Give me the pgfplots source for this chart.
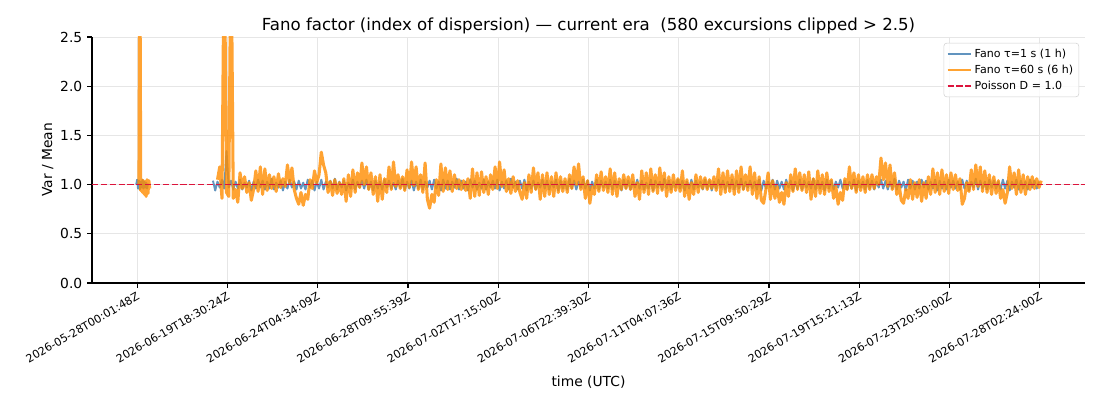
\documentclass[border=0pt]{standalone}
\usepackage{fontspec}
\setmainfont{DejaVu Sans}
\usepackage{pgfplots}
\pgfplotsset{compat=1.18}
\definecolor{mblue}{RGB}{70,130,180}
\definecolor{morange}{RGB}{255,140,0}
\definecolor{mred}{RGB}{220,20,60}
\definecolor{gridgray}{RGB}{230,230,230}
\begin{document}
\begin{tikzpicture}
\begin{axis}[
  at={(0,0)}, anchor=south west,
  scale only axis, width=714.96bp, height=177.12bp,
  xmin=-0.5, xmax=10.5, ymin=0, ymax=2.5,
  axis x line*=bottom, axis y line*=left,
  x axis line style={-}, y axis line style={-},
  axis line style={line width=0.8bp},
  xtick={0,...,10},
  xticklabels={2026-05-28T00:01:48Z,2026-06-19T18:30:24Z,2026-06-24T04:34:09Z,2026-06-28T09:55:39Z,2026-07-02T17:15:00Z,2026-07-06T22:39:30Z,2026-07-11T04:07:36Z,2026-07-15T09:50:29Z,2026-07-19T15:21:13Z,2026-07-23T20:50:00Z,2026-07-28T02:24:00Z},
  ytick={0,0.5,1,1.5,2,2.5},
  yticklabels={0.0,0.5,1.0,1.5,2.0,2.5},
  tick align=outside, major tick length=3.5bp,
  tick style={line width=0.8bp, black},
  grid=major, grid style={line width=0.7bp, gridgray},
  xticklabel style={rotate=30, anchor=north east, font=\fontsize{8}{9.6}\selectfont, inner sep=1bp, xshift=-1bp, yshift=-1bp},
  yticklabel style={font=\fontsize{10}{12}\selectfont},
  xlabel={time (UTC)}, ylabel={Var / Mean},
  label style={font=\fontsize{10}{12}\selectfont},
  xlabel style={yshift=-4bp},
  ylabel style={yshift=-2bp},
  title={Fano factor (index of dispersion) — current era\ \ (580 excursions clipped > 2.5)},
  title style={font=\fontsize{12}{14.4}\selectfont, yshift=-7bp},
  legend style={at={(0.994,0.976)}, anchor=north east, font=\fontsize{8}{9.6}\selectfont, draw=gray!35, rounded corners=2bp, fill=white, fill opacity=0.8, text opacity=1, inner sep=2bp},
  legend cell align=left,
]
\addplot[mblue, opacity=0.85, line width=1.4bp, line join=round, legend image code/.code={\draw[mblue, opacity=0.85, line width=1bp] (0cm,0cm) -- (0.6cm,0cm);}] table[row sep=\\, x expr=0.84+0.025*\coordindex, y index=0] {y\\
1.04\\ 0.94\\ 1.03\\ 0.97\\ 1.05\\ 0.96\\ 1.34\\ 0.97\\ 1.04\\ 0.95\\
1.03\\ 0.96\\ 1.05\\ 0.95\\ 1.02\\ 0.97\\ 1.04\\ 0.94\\ 1.03\\ 0.96\\
1.05\\ 0.97\\ 1.04\\ 0.95\\ 1.03\\ 0.96\\ 1.06\\ 0.95\\ 1.02\\ 0.97\\
1.04\\ 0.94\\ 1.03\\ 0.96\\ 1.05\\ 0.97\\ 1.03\\ 0.95\\ 1.04\\ 0.96\\
1.02\\ 0.95\\ 1.05\\ 0.97\\ 1.04\\ 0.94\\ 1.03\\ 0.96\\ 1.05\\ 0.95\\
1.03\\ 0.97\\ 1.04\\ 0.96\\ 1.06\\ 0.95\\ 1.03\\ 0.97\\ 1.04\\ 0.94\\
1.02\\ 0.96\\ 1.05\\ 0.95\\ 1.03\\ 0.97\\ 1.04\\ 0.96\\ 1.05\\ 0.95\\
1.03\\ 0.94\\ 1.04\\ 0.96\\ 1.03\\ 0.95\\ 1.05\\ 0.97\\ 1.04\\ 0.96\\
1.02\\ 0.95\\ 1.04\\ 0.97\\ 1.06\\ 0.95\\ 1.03\\ 0.96\\ 1.04\\ 0.94\\
1.03\\ 0.96\\ 1.05\\ 0.95\\ 1.03\\ 0.97\\ 1.04\\ 0.95\\ 1.05\\ 0.96\\
1.03\\ 0.94\\ 1.05\\ 0.96\\ 1.04\\ 0.95\\ 1.03\\ 0.97\\ 1.06\\ 0.95\\
1.04\\ 0.96\\ 1.03\\ 0.94\\ 1.05\\ 0.97\\ 1.04\\ 0.95\\ 1.02\\ 0.96\\
1.05\\ 0.95\\ 1.03\\ 0.97\\ 1.04\\ 0.96\\ 1.05\\ 0.94\\ 1.03\\ 0.96\\
1.04\\ 0.95\\ 1.06\\ 0.97\\ 1.03\\ 0.95\\ 1.04\\ 0.96\\ 1.05\\ 0.94\\
1.03\\ 0.96\\ 1.04\\ 0.95\\ 1.02\\ 0.97\\ 1.05\\ 0.96\\ 1.04\\ 0.95\\
1.03\\ 0.97\\ 1.05\\ 0.94\\ 1.04\\ 0.96\\ 1.03\\ 0.95\\ 1.06\\ 0.96\\
1.04\\ 0.95\\ 1.03\\ 0.97\\ 1.05\\ 0.96\\ 1.04\\ 0.94\\ 1.03\\ 0.96\\
1.05\\ 0.95\\ 1.04\\ 0.97\\ 1.03\\ 0.96\\ 1.05\\ 0.95\\ 1.04\\ 0.97\\
1.03\\ 0.94\\ 1.05\\ 0.96\\ 1.04\\ 0.95\\ 1.03\\ 0.97\\ 1.05\\ 0.96\\
1.04\\ 0.95\\ 1.02\\ 0.96\\ 1.05\\ 0.94\\ 1.04\\ 0.97\\ 1.03\\ 0.95\\
1.06\\ 0.96\\ 1.04\\ 0.95\\ 1.03\\ 0.97\\ 1.05\\ 0.96\\ 1.04\\ 0.94\\
1.03\\ 0.96\\ 1.05\\ 0.95\\ 1.04\\ 0.97\\ 1.03\\ 0.95\\ 1.05\\ 0.96\\
1.04\\ 0.94\\ 1.03\\ 0.96\\ 1.05\\ 0.97\\ 1.04\\ 0.95\\ 1.03\\ 0.96\\
1.05\\ 0.95\\ 1.04\\ 0.96\\ 1.06\\ 0.95\\ 1.03\\ 0.97\\ 1.04\\ 0.96\\
1.03\\ 0.95\\ 1.05\\ 0.94\\ 1.04\\ 0.96\\ 1.03\\ 0.97\\ 1.05\\ 0.95\\
1.04\\ 0.96\\ 1.03\\ 0.95\\ 1.05\\ 0.97\\ 1.04\\ 0.94\\ 1.03\\ 0.96\\
1.05\\ 0.95\\ 1.04\\ 0.97\\ 1.03\\ 0.96\\ 1.06\\ 0.95\\ 1.04\\ 0.96\\
1.03\\ 0.94\\ 1.05\\ 0.96\\ 1.04\\ 0.95\\ 1.03\\ 0.97\\ 1.05\\ 0.96\\
1.04\\ 0.95\\ 1.03\\ 0.96\\ 1.05\\ 0.94\\ 1.04\\ 0.97\\ 1.03\\ 0.95\\
1.05\\ 0.96\\ 1.04\\ 0.95\\ 1.03\\ 0.97\\ 1.05\\ 0.96\\ 1.04\\ 0.95\\
1.03\\ 0.96\\ 1.06\\ 0.95\\ 1.04\\ 0.97\\ 1.03\\ 0.94\\ 1.05\\ 0.96\\
1.04\\ 0.95\\ 1.03\\ 0.96\\ 1.05\\ 0.97\\ 1.04\\ 0.95\\ 1.03\\ 0.96\\
1.05\\ 0.94\\ 1.04\\ 0.96\\ 1.03\\ 0.95\\ 1.05\\ 0.97\\ 1.04\\ 0.96\\
1.03\\ 0.95\\ 1.05\\ 0.96\\ 1.04\\ 0.94\\ 1.03\\ 0.97\\ 1.06\\ 0.95\\
1.04\\ 0.96\\ 1.03\\ 0.95\\ 1.05\\ 0.97\\ 1.04\\ 0.96\\ 1.03\\ 0.95\\
1.05\\ 0.96\\ 1.04\\ 0.94\\ 1.03\\ 0.97\\ 1.05\\ 0.95\\ 1.04\\ 0.96\\
1.03\\ 0.95\\ 1.05\\ 0.97\\ 1.04\\ 0.96\\ 1.03\\
};
\addlegendentry{Fano τ=1 s (1 h)}
\addplot[mblue, opacity=0.85, line width=1.4bp, line join=round, forget plot] coordinates {
(-0.01,1.00) (0.00,1.05) (0.01,0.96) (0.02,1.04) (0.03,0.95) (0.04,1.03) (0.05,0.97) (0.06,1.05) (0.07,0.96) (0.08,1.03) (0.09,0.97) (0.10,1.02) (0.11,0.96) (0.12,1.01)
};
\addplot[morange, opacity=0.8, line width=2.2bp, line join=round, legend image code/.code={\draw[morange, opacity=0.8, line width=1bp] (0cm,0cm) -- (0.6cm,0cm);}] table[row sep=\\, x expr=0.89+0.025*\coordindex, y index=0] {y\\
1.05\\ 1.18\\ 0.86\\ 3.6\\ 0.92\\ 0.88\\ 3.6\\ 0.86\\ 0.95\\ 0.82\\
1.12\\ 0.96\\ 1.08\\ 0.92\\ 1.02\\ 0.84\\ 0.95\\ 1.14\\ 0.93\\ 1.18\\
0.90\\ 1.16\\ 0.94\\ 1.10\\ 0.96\\ 1.08\\ 0.93\\ 1.11\\ 0.97\\ 1.06\\
0.98\\ 1.20\\ 1.02\\ 1.17\\ 0.95\\ 0.86\\ 0.80\\ 0.92\\ 0.79\\ 0.90\\
0.85\\ 1.05\\ 0.96\\ 1.14\\ 1.02\\ 1.10\\ 1.33\\ 1.20\\ 1.12\\ 0.92\\
1.03\\ 0.89\\ 1.05\\ 0.91\\ 1.02\\ 0.90\\ 1.06\\ 0.83\\ 1.10\\ 0.88\\
1.15\\ 0.92\\ 1.12\\ 0.97\\ 1.22\\ 1.00\\ 1.18\\ 0.95\\ 1.12\\ 0.90\\
1.08\\ 0.83\\ 1.10\\ 0.85\\ 1.06\\ 0.92\\ 1.18\\ 0.95\\ 1.23\\ 0.98\\
1.10\\ 0.96\\ 1.08\\ 0.94\\ 1.15\\ 0.97\\ 1.23\\ 0.99\\ 1.18\\ 0.95\\
1.10\\ 0.92\\ 1.22\\ 0.85\\ 0.76\\ 0.90\\ 0.82\\ 1.05\\ 0.89\\ 1.21\\
0.93\\ 1.17\\ 0.95\\ 1.14\\ 0.93\\ 1.10\\ 0.96\\ 1.05\\ 0.95\\ 1.04\\
0.94\\ 1.06\\ 0.86\\ 1.16\\ 0.88\\ 1.12\\ 0.89\\ 1.13\\ 0.92\\ 1.08\\
0.90\\ 1.10\\ 0.95\\ 1.18\\ 0.96\\ 1.23\\ 0.98\\ 1.15\\ 0.93\\ 1.06\\
0.91\\ 1.08\\ 0.93\\ 1.04\\ 0.92\\ 0.85\\ 1.02\\ 0.86\\ 1.10\\ 0.92\\
1.17\\ 0.95\\ 1.12\\ 0.85\\ 1.10\\ 0.88\\ 1.12\\ 0.90\\ 1.08\\ 0.88\\
1.12\\ 0.92\\ 1.08\\ 0.93\\ 1.06\\ 0.92\\ 1.10\\ 0.96\\ 1.18\\ 1.00\\
1.21\\ 0.95\\ 1.08\\ 0.86\\ 1.04\\ 0.81\\ 0.98\\ 0.90\\ 1.10\\ 0.93\\
1.13\\ 0.94\\ 1.08\\ 0.92\\ 1.16\\ 0.90\\ 1.12\\ 0.88\\ 1.06\\ 0.95\\
1.10\\ 0.96\\ 1.08\\ 0.95\\ 1.10\\ 0.88\\ 1.02\\ 0.85\\ 1.14\\ 0.92\\
1.12\\ 0.90\\ 1.16\\ 0.93\\ 1.10\\ 0.91\\ 1.17\\ 0.94\\ 1.12\\ 0.88\\
1.08\\ 0.92\\ 1.10\\ 0.94\\ 1.06\\ 0.93\\ 1.14\\ 0.88\\ 1.05\\ 0.85\\
1.02\\ 0.90\\ 1.10\\ 0.92\\ 1.08\\ 0.96\\ 1.07\\ 0.95\\ 1.05\\ 0.96\\
1.08\\ 0.94\\ 1.16\\ 0.90\\ 1.12\\ 0.92\\ 1.14\\ 0.93\\ 1.10\\ 0.90\\
1.14\\ 0.92\\ 1.18\\ 0.95\\ 1.10\\ 0.94\\ 1.18\\ 0.90\\ 1.12\\ 0.86\\
1.08\\ 0.84\\ 0.81\\ 0.95\\ 1.12\\ 0.85\\ 1.04\\ 0.86\\ 0.98\\ 0.82\\
0.92\\ 0.80\\ 1.02\\ 0.88\\ 1.10\\ 0.93\\ 1.16\\ 0.95\\ 1.12\\ 0.94\\
1.10\\ 0.92\\ 1.13\\ 0.85\\ 1.06\\ 0.88\\ 1.14\\ 0.91\\ 1.10\\ 0.90\\
1.12\\ 0.93\\ 1.05\\ 0.86\\ 0.98\\ 0.80\\ 0.92\\ 0.84\\ 1.06\\ 0.95\\
1.18\\ 0.96\\ 1.12\\ 0.92\\ 1.10\\ 0.94\\ 1.08\\ 0.92\\ 1.10\\ 0.95\\
1.10\\ 0.96\\ 1.08\\ 1.00\\ 1.27\\ 1.05\\ 1.22\\ 0.98\\ 1.20\\ 0.95\\
1.12\\ 0.90\\ 1.00\\ 0.84\\ 0.81\\ 0.95\\ 0.86\\ 1.05\\ 0.85\\ 1.02\\
0.87\\ 1.05\\ 0.83\\ 1.02\\ 0.86\\ 1.08\\ 0.90\\ 1.16\\ 0.92\\ 1.12\\
0.90\\ 1.15\\ 0.93\\ 1.10\\ 0.91\\ 1.12\\ 0.95\\ 1.10\\ 0.94\\ 1.06\\
0.80\\ 0.86\\ 1.02\\ 0.93\\ 1.15\\ 0.95\\ 1.20\\ 0.98\\ 1.18\\ 0.93\\
1.14\\ 0.92\\ 1.10\\ 0.90\\ 1.08\\ 0.91\\ 1.04\\ 0.86\\ 0.95\\ 0.81\\
0.92\\ 1.18\\ 0.96\\ 1.12\\ 0.90\\ 1.15\\ 0.92\\ 1.10\\ 0.90\\ 1.08\\
0.95\\ 1.08\\ 0.96\\ 1.06\\ 0.97\\ 1.04\\
};
\addlegendentry{Fano τ=60 s (6 h)}
\addplot[morange, opacity=0.8, line width=2.2bp, line join=round, forget plot] coordinates {
(0.02,1.00) (0.03,3.6) (0.04,0.94) (0.05,1.05) (0.06,0.92) (0.07,1.04) (0.08,0.90) (0.09,1.03) (0.10,0.88) (0.11,1.05) (0.12,0.91) (0.13,1.04) (0.14,0.96)
};
\addplot[mred, line width=1.2bp, dash pattern=on 4.44bp off 1.92bp] coordinates {(-0.5,1) (10.5,1)};
\addlegendentry{Poisson D = 1.0}
\end{axis}
\pgfresetboundingbox
\useasboundingbox (-66.24bp,-84.24bp) rectangle (725.76bp,203.76bp);
\end{tikzpicture}
\end{document}
